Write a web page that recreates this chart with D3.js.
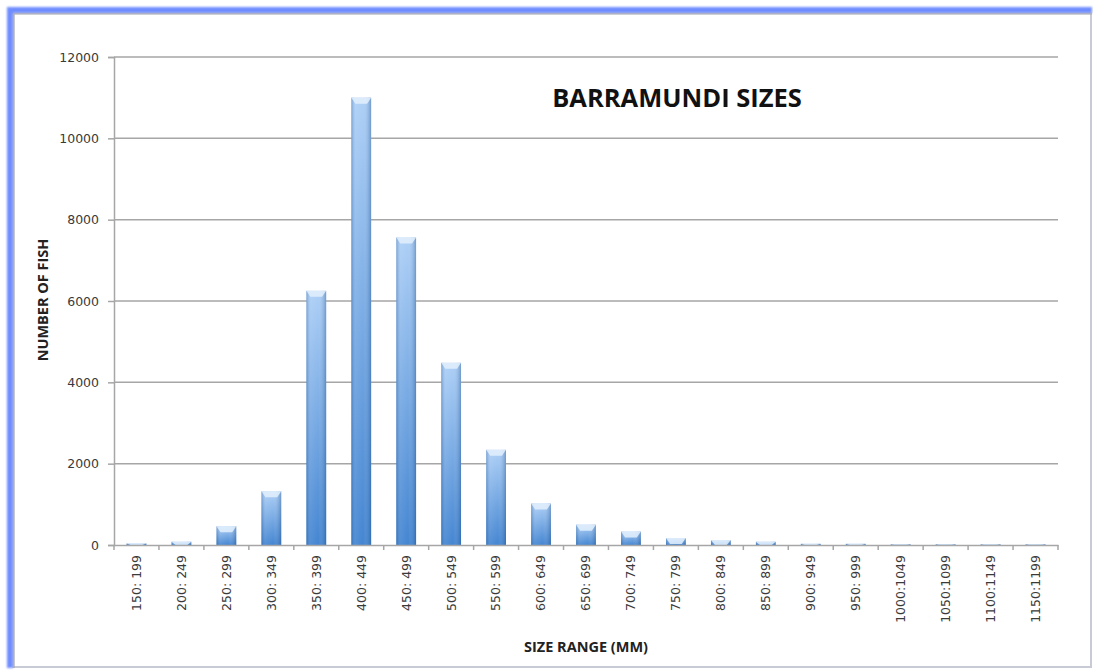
<!DOCTYPE html>
<html>
<head>
<meta charset="utf-8">
<script src="https://cdn.jsdelivr.net/npm/d3@7"></script>
<style>
  body { margin: 0; background: #fff; }
  svg { display: block; font-family: "Open Sans", "DejaVu Sans", sans-serif; }
</style>
</head>
<body>
<svg id="chart" width="1093" height="670"></svg>
<script>
// size bands (mm) and fish counts
var categories = ["150: 199", "200: 249", "250: 299", "300: 349", "350: 399", "400: 449",
  "450: 499", "500: 549", "550: 599", "600: 649", "650: 699", "700: 749", "750: 799",
  "800: 849", "850: 899", "900: 949", "950: 999", "1000:1049", "1050:1099", "1100:1149", "1150:1199"];
var counts = [40, 80, 460, 1320, 6250, 11000, 7560, 4480, 2340, 1020, 500, 330, 170, 120, 80,
  30, 30, 20, 20, 20, 20];
var yTicks = [0, 2000, 4000, 6000, 8000, 10000, 12000];

var W = 1093, H = 670;
var m = {left: 114, right: 1058, top: 57, bottom: 545};

var svg = d3.select("#chart");
var defs = svg.append("defs");

// frame: blurred blue edge top/left, light grey right/bottom
var blur = defs.append("filter").attr("id", "soft").attr("x", "-5%").attr("y", "-5%").attr("width", "110%").attr("height", "110%");
blur.append("feGaussianBlur").attr("stdDeviation", 1.2);

svg.append("rect").attr("x", 13).attr("y", 13).attr("width", W - 15).attr("height", H - 16)
  .attr("fill", "#fff").attr("stroke", "#c8cad6").attr("stroke-width", 2);
svg.append("path")
  .attr("d", "M10," + (H - 2) + " V10 H" + (W - 1))
  .attr("fill", "none").attr("stroke", "#6f8dff").attr("stroke-width", 6)
  .attr("filter", "url(#soft)");
svg.append("path")
  .attr("d", "M14," + (H - 2) + " V14 H" + (W - 1))
  .attr("fill", "none").attr("stroke", "#a9a9b0").attr("stroke-width", 1.2);

// bar gradients
var vg = defs.append("linearGradient").attr("id", "barV").attr("x1", 0).attr("y1", 0).attr("x2", 0).attr("y2", 1);
vg.append("stop").attr("offset", "0%").attr("stop-color", "#a9cdf6");
vg.append("stop").attr("offset", "100%").attr("stop-color", "#3a7fcf");
var hg = defs.append("linearGradient").attr("id", "barH").attr("x1", 0).attr("y1", 0).attr("x2", 1).attr("y2", 0);
hg.append("stop").attr("offset", "0%").attr("stop-color", "#1d4f8c").attr("stop-opacity", 0.35);
hg.append("stop").attr("offset", "22%").attr("stop-color", "#ffffff").attr("stop-opacity", 0.12);
hg.append("stop").attr("offset", "60%").attr("stop-color", "#ffffff").attr("stop-opacity", 0.05);
hg.append("stop").attr("offset", "100%").attr("stop-color", "#1d4f8c").attr("stop-opacity", 0.4);

var x = d3.scaleBand().domain(categories).range([m.left, m.right]).paddingInner(0.56).paddingOuter(0.28);
var y = d3.scaleLinear().domain([0, 12000]).range([m.bottom, m.top]);

// gridlines
svg.append("g").selectAll("line").data(yTicks.slice(1)).join("line")
  .attr("x1", m.left).attr("x2", m.right)
  .attr("y1", function(d){ return y(d); }).attr("y2", function(d){ return y(d); })
  .attr("stroke", "#a6a6a6").attr("stroke-width", 1.5);

// y axis
var ya = svg.append("g").attr("transform", "translate(" + m.left + ",0)")
  .call(d3.axisLeft(y).tickValues(yTicks).tickSize(6).tickPadding(9).tickFormat(d3.format("d")));
ya.select(".domain").attr("stroke", "#a6a6a6").attr("stroke-width", 1.5);
ya.selectAll(".tick line").attr("stroke", "#a6a6a6").attr("stroke-width", 1.5);
ya.selectAll(".tick text").attr("font-size", 12.5).attr("fill", "#3a3a3a").attr("font-family", "DejaVu Sans, sans-serif");

// bars
var bars = svg.append("g").selectAll("g").data(categories).join("g");
bars.append("rect")
  .attr("x", function(d){ return x(d); })
  .attr("y", function(d, i){ return y(counts[i]); })
  .attr("width", x.bandwidth())
  .attr("height", function(d, i){ return m.bottom - y(counts[i]); })
  .attr("fill", "url(#barV)");
bars.append("rect")
  .attr("x", function(d){ return x(d); })
  .attr("y", function(d, i){ return y(counts[i]); })
  .attr("width", x.bandwidth())
  .attr("height", function(d, i){ return m.bottom - y(counts[i]); })
  .attr("fill", "url(#barH)");
// bevel highlight on top
bars.append("path")
  .attr("d", function(d, i){
    var x0 = x(d), w = x.bandwidth(), t = y(counts[i]), h = Math.min(6, m.bottom - t);
    return "M" + x0 + "," + t + " H" + (x0 + w) + " L" + (x0 + w - 4) + "," + (t + h) + " H" + (x0 + 4) + " Z";
  })
  .attr("fill", "#e3f0fd").attr("opacity", 0.85);

// x axis
var xa = svg.append("g").attr("transform", "translate(0," + m.bottom + ")")
  .call(d3.axisBottom(x).tickSize(0).tickPadding(0));
xa.select(".domain").attr("stroke", "#a6a6a6").attr("stroke-width", 1.5);
xa.selectAll(".tick text")
  .attr("transform", "rotate(-90)")
  .attr("x", -10).attr("y", 0).attr("dy", "0.35em")
  .attr("text-anchor", "end")
  .attr("font-size", 12.5).attr("fill", "#3a3a3a").attr("font-family", "DejaVu Sans, sans-serif");
// tick marks between categories
svg.append("g").selectAll("line").data(d3.range(categories.length + 1)).join("line")
  .attr("x1", function(i){ return m.left + i * (m.right - m.left) / categories.length; })
  .attr("x2", function(i){ return m.left + i * (m.right - m.left) / categories.length; })
  .attr("y1", m.bottom).attr("y2", m.bottom + 5)
  .attr("stroke", "#a6a6a6").attr("stroke-width", 1.5);

// titles
svg.append("text").attr("x", 677).attr("y", 107).attr("text-anchor", "middle")
  .attr("font-size", 25.5).attr("font-weight", "bold").attr("fill", "#111")
  .text("BARRAMUNDI SIZES");
svg.append("text").attr("x", 586).attr("y", 652).attr("text-anchor", "middle")
  .attr("font-size", 14.5).attr("font-weight", "bold").attr("fill", "#222")
  .text("SIZE RANGE (MM)");
svg.append("text").attr("transform", "translate(48,300) rotate(-90)").attr("text-anchor", "middle")
  .attr("font-size", 14.5).attr("font-weight", "bold").attr("fill", "#222")
  .text("NUMBER OF FISH");
</script>
</body>
</html>
